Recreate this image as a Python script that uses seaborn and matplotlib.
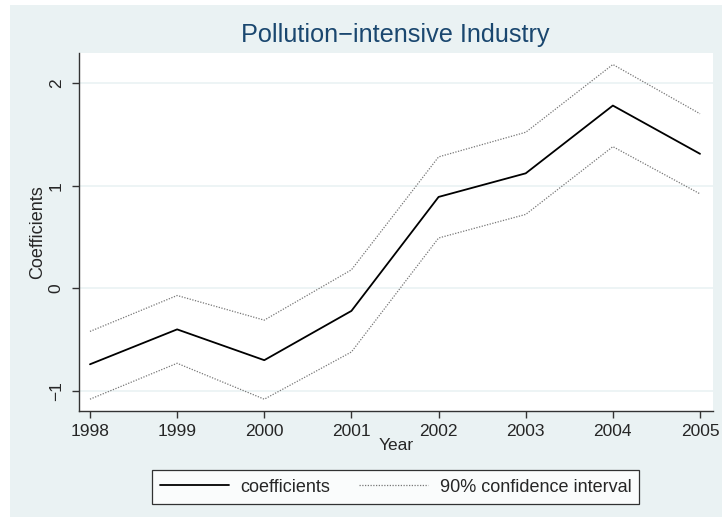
import numpy as np
import pandas as pd
import matplotlib
matplotlib.use("Agg")
import matplotlib.pyplot as plt
from matplotlib.patches import Rectangle
import seaborn as sns

years = [1998, 1999, 2000, 2001, 2002, 2003, 2004, 2005]
coef = [-0.74, -0.40, -0.70, -0.22, 0.89, 1.12, 1.78, 1.31]
upper = [-0.42, -0.07, -0.31, 0.18, 1.28, 1.52, 2.18, 1.70]
lower = [-1.08, -0.73, -1.08, -0.62, 0.49, 0.72, 1.38, 0.92]

df = pd.DataFrame({"Year": years, "coef": coef, "upper": upper, "lower": lower})

sns.set_style("white")
plt.rcParams['font.family'] = ['Liberation Sans', 'DejaVu Sans']

bg = "#EAF2F3"
fig = plt.figure(figsize=(7.22, 5.17), dpi=100, facecolor=bg)
# thin white margin at top and left, as in the exported graph
fig.patches.append(Rectangle((0, 0), 10 / 722, 1, transform=fig.transFigure,
                             facecolor="white", edgecolor="none", zorder=-1))
fig.patches.append(Rectangle((0, 1 - 5 / 517), 1, 5 / 517, transform=fig.transFigure,
                             facecolor="white", edgecolor="none", zorder=-1))

ax = fig.add_axes([79 / 722, 1 - 411 / 517, 634 / 722, 358 / 517])
ax.set_facecolor("white")

sns.lineplot(data=df, x="Year", y="coef", ax=ax, color="black", linewidth=1.3,
             label="coefficients")
sns.lineplot(data=df, x="Year", y="upper", ax=ax, color="#777777", linewidth=0.9,
             linestyle=(0, (1, 1.2)), label="90% confidence interval")
sns.lineplot(data=df, x="Year", y="lower", ax=ax, color="#777777", linewidth=0.9,
             linestyle=(0, (1, 1.2)))

ax.set_xlim(1997.874, 2005.149)
ax.set_ylim(-1.195, 2.292)
ax.set_xticks(years)
ax.set_yticks([-1, 0, 1, 2])
ax.set_yticklabels(["\u22121", "0", "1", "2"], rotation=90, va="center")
ax.grid(axis="y", color=bg, linewidth=1.2)
ax.set_axisbelow(True)
for s in ["top", "right"]:
    ax.spines[s].set_visible(False)
for s in ["left", "bottom"]:
    ax.spines[s].set_color("#333333")
    ax.spines[s].set_linewidth(1.0)
ax.tick_params(axis="both", length=5, width=1, color="#333333", labelsize=12.5,
               direction="out", left=True, bottom=True)
ax.tick_params(axis="x", pad=4)
ax.tick_params(axis="y", pad=6)
ax.set_xlabel("Year", fontsize=12.5, labelpad=0)
ax.set_ylabel("Coefficients", fontsize=13, labelpad=2)

fig.text(0.547, 0.932, "Pollution\u2212intensive Industry", ha="center", va="center",
         fontsize=18.2, color="#1A476F")

handles, labels = ax.get_legend_handles_labels()
ax.get_legend().remove()
leg = fig.legend(handles, labels, loc="center", bbox_to_anchor=(0.548, 0.058), ncol=2,
                 frameon=True, fancybox=False, fontsize=13, handlelength=3.8,
                 handletextpad=0.65, columnspacing=1.6, borderpad=0.45)
leg.get_frame().set_edgecolor("black")
leg.get_frame().set_linewidth(0.9)

fig.savefig("out.png", dpi=100, facecolor=bg)
